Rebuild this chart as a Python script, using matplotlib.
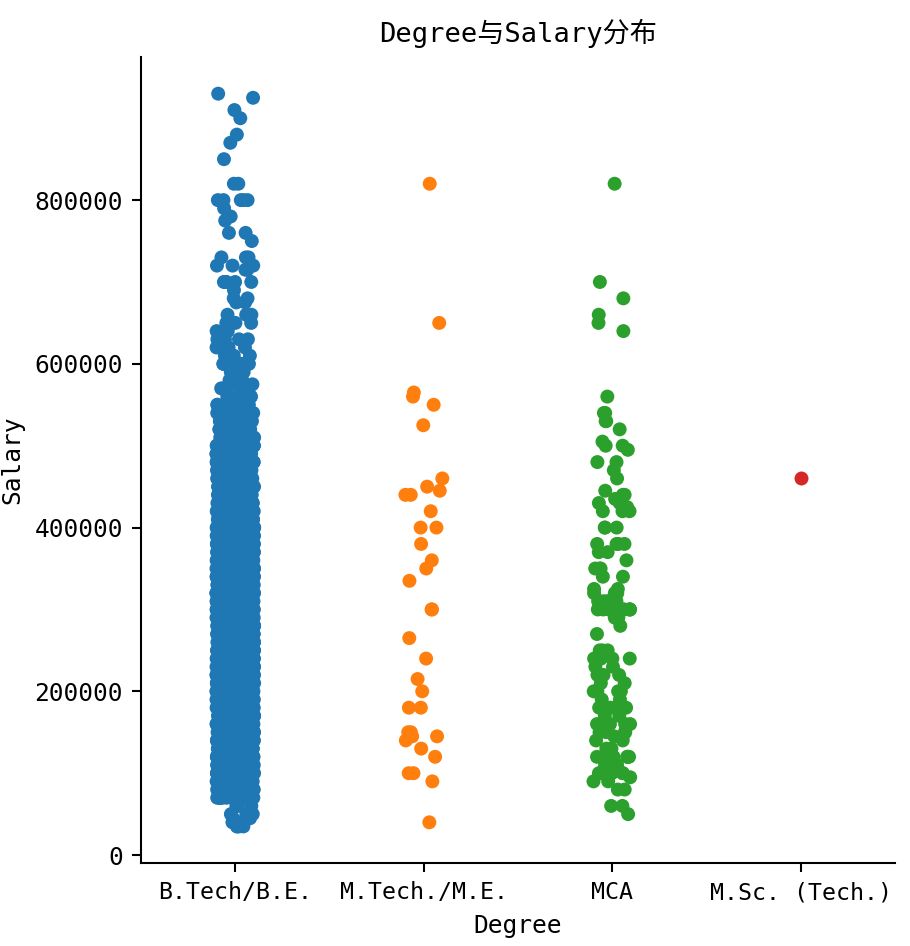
import numpy as np
import pandas as pd
import matplotlib
matplotlib.use("Agg")
import matplotlib.pyplot as plt
import seaborn as sns

# ---------------- data ----------------
categories = ["B.Tech/B.E.", "M.Tech./M.E.", "MCA", "M.Sc. (Tech.)"]
colors = ["#1f77b4", "#ff7f0e", "#2ca02c", "#d62728"]

# B.Tech/B.E. : salary levels and number of records at each level
btech_levels = [35000, 40000, 45000, 50000, 60000,
                70000, 80000, 90000, 100000, 110000, 120000, 130000, 140000, 150000,
                160000, 170000, 180000, 190000, 200000, 210000, 220000, 230000, 240000,
                250000, 260000, 270000, 280000, 290000, 300000, 310000, 320000, 330000,
                340000, 350000, 360000, 370000, 380000, 390000, 400000, 410000, 420000,
                430000, 440000, 450000, 460000, 470000, 480000, 490000, 500000, 510000,
                520000, 530000,
                540000, 550000, 560000, 570000, 575000, 580000, 590000, 600000, 610000,
                620000, 630000, 640000, 650000, 660000, 675000, 680000, 690000, 700000,
                715000, 720000, 730000, 750000, 760000, 775000, 780000, 790000, 800000,
                820000, 850000, 870000, 880000, 900000, 910000, 925000, 930000]
btech_counts = [4, 2, 2, 3, 3,
                20, 40, 30, 70, 50, 110, 50, 60, 80,
                60, 60, 110, 50, 150, 70, 90, 70, 110,
                90, 80, 70, 90, 60, 200, 70, 110, 80,
                110, 150, 90, 70, 90, 60, 150, 40, 80,
                50, 50, 80, 40, 30, 40, 20, 60, 15,
                20, 12,
                8, 8, 6, 3, 4, 3, 3, 8, 4,
                3, 4, 3, 4, 3, 2, 2, 1, 6,
                2, 3, 3, 1, 2, 1, 1, 1, 5,
                2, 1, 1, 1, 1, 1, 1, 1]

# M.Tech./M.E. : individual salaries
mtech_salary = [820000, 650000, 565000, 560000, 550000, 525000, 460000, 450000,
                445000, 440000, 440000, 420000, 400000, 400000, 380000, 360000,
                350000, 335000, 300000, 300000, 265000, 240000, 215000, 200000,
                180000, 180000, 150000, 150000, 145000, 145000, 140000, 130000,
                120000, 100000, 100000, 90000, 40000]

# MCA : salary levels and counts
mca_levels = [820000, 700000, 680000, 660000, 650000, 640000, 560000, 540000, 530000,
              520000, 505000, 500000, 495000, 480000, 470000, 460000, 445000, 440000,
              435000, 430000, 425000, 420000, 400000, 380000, 370000, 360000, 350000,
              340000, 325000, 320000, 310000, 300000, 290000, 280000, 270000, 250000,
              240000, 230000, 220000, 210000, 200000, 190000, 180000, 170000, 160000,
              150000, 145000, 140000, 130000, 120000, 110000, 100000, 95000, 90000,
              80000, 60000, 50000]
mca_counts = [1, 1, 1, 1, 1, 1, 1, 2, 2,
              1, 1, 2, 1, 2, 1, 1, 1, 2,
              1, 2, 1, 3, 3, 4, 2, 1, 3,
              2, 2, 3, 5, 12, 2, 1, 1, 3,
              4, 2, 3, 2, 5, 2, 5, 2, 5,
              4, 2, 2, 2, 8, 3, 5, 2, 2,
              2, 2, 1]

# M.Sc. (Tech.)
msc_salary = [460000]

# ---------------- build table ----------------
btech_salary = np.repeat(btech_levels, btech_counts)
mca_salary = np.repeat(mca_levels, mca_counts)
df = pd.concat([
    pd.DataFrame({"Degree": categories[0], "Salary": btech_salary}),
    pd.DataFrame({"Degree": categories[1], "Salary": mtech_salary}),
    pd.DataFrame({"Degree": categories[2], "Salary": mca_salary}),
    pd.DataFrame({"Degree": categories[3], "Salary": msc_salary}),
], ignore_index=True)

# ---------------- plot ----------------
plt.rcParams["font.family"] = ["DejaVu Sans Mono", "Noto Sans CJK SC"]
plt.rcParams["axes.unicode_minus"] = False

dpi = 186
fig = plt.figure(figsize=(910 / dpi, 946 / dpi), dpi=dpi)
ax = fig.add_axes([0.155, 0.0877, 0.8285, 0.852])

np.random.seed(0)
sns.stripplot(data=df, x="Degree", y="Salary", hue="Degree", order=categories,
              hue_order=categories, palette=colors, legend=False, jitter=True,
              size=5.4, ax=ax)

sns.despine(ax=ax)
ax.set_yticks([0, 200000, 400000, 600000, 800000])
ax.tick_params(axis="y", labelsize=9.5)
ax.tick_params(axis="x", labelsize=9)
ax.set_xlabel("Degree", fontsize=9.5)
ax.set_ylabel("Salary", fontsize=9.5)
ax.set_title("Degree与Salary分布", fontsize=10.5)

fig.savefig("out.png", dpi=dpi)
